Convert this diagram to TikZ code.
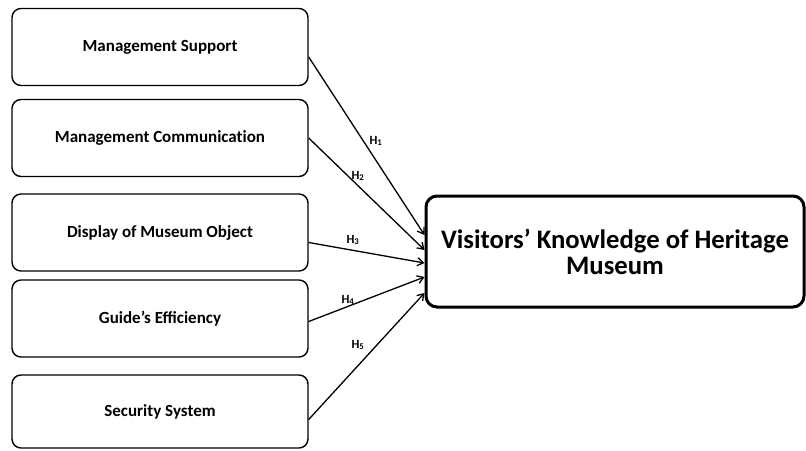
\documentclass[tikz,border=0pt]{standalone}
\usepackage{fontspec}
\setmainfont{Carlito}
\usetikzlibrary{arrows.meta}
\tikzset{
  src/.style={draw, line width=1.4pt, rounded corners=9pt, minimum width=296pt, minimum height=77pt, inner sep=0pt, font=\bfseries\fontsize{17}{20}\selectfont},
  target/.style={draw, line width=3pt, rounded corners=11pt, minimum width=378pt, minimum height=111pt, inner sep=0pt, align=center, font=\bfseries\fontsize{26.7}{29}\selectfont},
  link/.style={line width=1.3pt, -{Straight Barb[length=6pt,width=8pt,line width=1.3pt]}},
  hlab/.style={font=\bfseries\fontsize{12.5}{14}\selectfont, inner sep=0pt}
}
\begin{document}
\begin{tikzpicture}[x=1pt,y=-1pt]
\useasboundingbox (0,0) rectangle (806,450);
\node[src] (b1) at (160,47) {Management Support};
\node[src] (b2) at (160,138) {Management Communicat\kern0pt ion};
\node[src] (b3) at (160,232.5) {Display of Museum Object};
\node[src] (b4) at (160,318.5) {Guide’s Efficiency};
\node[src, minimum height=73pt] (b5) at (160,411.5) {Security System};
\node[target] (t) at (615,251.5) {Visitors’ Knowledge of Heritage\\[-3pt]Museum};
\coordinate (e1) at ([yshift=16.5pt]t.west);
\coordinate (e2) at ([yshift=1.5pt]t.west);
\coordinate (e3) at ([yshift=-11.5pt]t.west);
\coordinate (e4) at ([yshift=-25.5pt]t.west);
\coordinate (e5) at ([yshift=-41.5pt]t.west);
\draw[link] ([yshift=-10pt]b1.east) -- (e1);
\draw[link] (b2.east) -- (e2);
\draw[link] ([yshift=-10pt]b3.east) -- (e3);
\draw[link] ([yshift=-3pt]b4.east) -- (e4);
\draw[link] ([yshift=-8pt]b5.east) -- (e5);
\node[hlab] (h1) at (376,141) {H\textsubscript{1}};
\node[hlab] (h2) at (358,176) {H\textsubscript{2}};
\node[hlab] (h3) at (353,240) {H\textsubscript{3}};
\node[hlab] (h4) at (348,300) {H\textsubscript{4}};
\node[hlab] (h5) at (358,345) {H\textsubscript{5}};
\end{tikzpicture}
\end{document}
